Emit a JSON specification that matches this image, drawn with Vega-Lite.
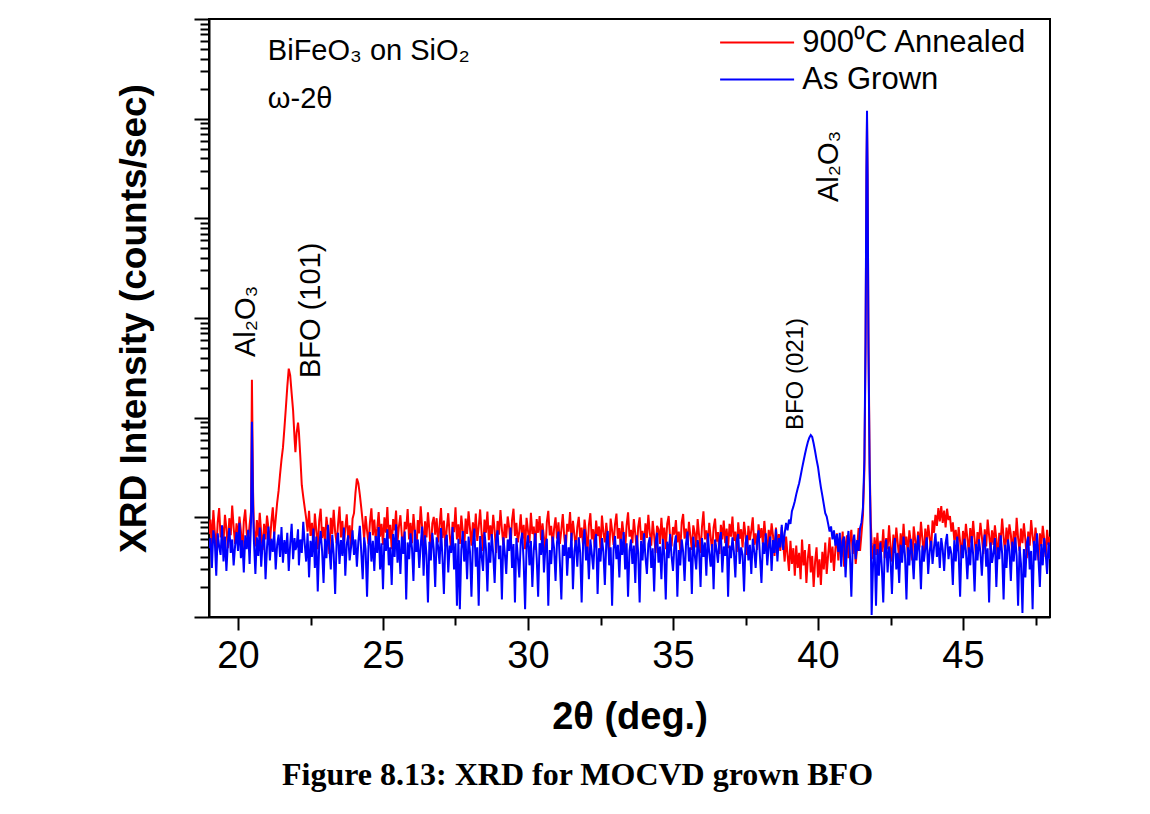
{
  "$schema": "https://vega.github.io/schema/vega-lite/v6.json",
  "width": 841,
  "height": 598,
  "autosize": {"type": "none"},
  "padding": {"left": 209, "top": 19, "right": 100, "bottom": 197},
  "background": "white",
  "title": {
    "text": "Figure 8.13: XRD for MOCVD grown BFO",
    "orient": "bottom",
    "anchor": "middle",
    "font": "Liberation Serif",
    "fontSize": 32,
    "fontWeight": "bold",
    "color": "black",
    "dx": -52,
    "offset": 24
  },
  "datasets": {
    "scan": [
      {"t":19.00,"a":6.8,"g":4.9},{"t":19.05,"a":9.5,"g":6.2},{"t":19.10,"a":5.2,"g":3.1},{"t":19.15,"a":11.8,"g":7.4},{"t":19.20,"a":7.1,"g":5.8},
      {"t":19.25,"a":4.6,"g":2.6},{"t":19.30,"a":8.9,"g":6.9},{"t":19.35,"a":12.4,"g":5.1},{"t":19.40,"a":6.3,"g":4.2},{"t":19.45,"a":8.2,"g":8.3},
      {"t":19.50,"a":5.7,"g":3.6},{"t":19.55,"a":10.6,"g":6.4},{"t":19.60,"a":7.7,"g":2.9},{"t":19.65,"a":4.9,"g":5.5},{"t":19.70,"a":9.8,"g":7.8},
      {"t":19.75,"a":6.6,"g":4.4},{"t":19.80,"a":13.1,"g":6.0},{"t":19.85,"a":7.9,"g":3.3},{"t":19.90,"a":5.4,"g":5.2},{"t":19.95,"a":8.7,"g":7.1},
      {"t":20.00,"a":6.1,"g":4.6},{"t":20.05,"a":10.2,"g":8.8},{"t":20.10,"a":7.3,"g":3.9},{"t":20.15,"a":4.4,"g":5.9},{"t":20.20,"a":9.1,"g":2.8},
      {"t":20.25,"a":12.0,"g":6.6},{"t":20.30,"a":6.9,"g":4.8},{"t":20.35,"a":5.8,"g":7.5},{"t":20.40,"a":8.4,"g":3.4},{"t":20.45,"a":11.5,"g":9.2},
      {"t":20.48,"a":240,"g":91},{"t":20.52,"a":18,"g":12},{"t":20.55,"a":7.6,"g":5.7},{"t":20.60,"a":5.1,"g":2.7},{"t":20.65,"a":9.4,"g":6.3},
      {"t":20.70,"a":6.4,"g":4.1},{"t":20.75,"a":11.1,"g":7.9},{"t":20.80,"a":7.0,"g":3.2},{"t":20.85,"a":4.7,"g":5.6},{"t":20.90,"a":8.6,"g":6.8},
      {"t":20.95,"a":6.0,"g":2.4},{"t":21.00,"a":10.4,"g":5.0},{"t":21.05,"a":7.8,"g":8.1},{"t":21.10,"a":5.3,"g":3.7},{"t":21.15,"a":9.0,"g":6.1},
      {"t":21.20,"a":12.6,"g":4.5},{"t":21.25,"a":6.7,"g":7.2},{"t":21.30,"a":9.6,"g":3.0},{"t":21.35,"a":14.0,"g":5.3},{"t":21.40,"a":18.5,"g":6.7},
      {"t":21.45,"a":27,"g":4.0},{"t":21.50,"a":38,"g":8.0},{"t":21.55,"a":50,"g":3.5},{"t":21.60,"a":78,"g":5.9},{"t":21.65,"a":125,"g":4.3},
      {"t":21.70,"a":205,"g":7.0},{"t":21.75,"a":310,"g":2.9},{"t":21.80,"a":265,"g":5.4},{"t":21.85,"a":175,"g":8.6},{"t":21.90,"a":118,"g":3.8},
      {"t":21.95,"a":62,"g":6.2},{"t":21.98,"a":45,"g":4.7},{"t":22.02,"a":70,"g":5.1},{"t":22.07,"a":89,"g":7.6},{"t":22.10,"a":72,"g":3.3},
      {"t":22.15,"a":40,"g":6.0},{"t":22.20,"a":21,"g":4.4},{"t":22.25,"a":16,"g":9.0},{"t":22.30,"a":12.5,"g":5.5},{"t":22.35,"a":9.8,"g":3.6},
      {"t":22.40,"a":7.2,"g":6.9},{"t":22.45,"a":11.6,"g":2.5},{"t":22.50,"a":6.5,"g":5.8},{"t":22.55,"a":8.8,"g":4.0},{"t":22.60,"a":5.0,"g":7.7},
      {"t":22.65,"a":10.9,"g":3.1},{"t":22.70,"a":7.4,"g":6.4},{"t":22.75,"a":4.8,"g":1.8},{"t":22.80,"a":9.3,"g":5.2},{"t":22.85,"a":12.2,"g":7.3},
      {"t":22.90,"a":6.2,"g":4.6},{"t":22.95,"a":8.0,"g":2.2},{"t":23.00,"a":5.6,"g":6.1},{"t":23.05,"a":10.1,"g":3.9},{"t":23.10,"a":7.5,"g":8.4},
      {"t":23.15,"a":4.3,"g":5.0},{"t":23.20,"a":9.9,"g":3.0},{"t":23.25,"a":6.8,"g":6.7},{"t":23.30,"a":11.9,"g":4.3},{"t":23.35,"a":7.1,"g":1.7},
      {"t":23.40,"a":5.5,"g":5.6},{"t":23.45,"a":8.5,"g":7.0},{"t":23.50,"a":12.8,"g":3.4},{"t":23.55,"a":6.3,"g":5.9},{"t":23.60,"a":9.2,"g":4.1},
      {"t":23.65,"a":5.2,"g":7.9},{"t":23.70,"a":7.8,"g":2.6},{"t":23.75,"a":10.7,"g":5.4},{"t":23.80,"a":6.0,"g":6.6},{"t":23.85,"a":8.3,"g":3.7},
      {"t":23.90,"a":4.9,"g":5.1},{"t":23.95,"a":9.7,"g":7.4},{"t":24.00,"a":11.0,"g":4.2},{"t":24.05,"a":17.5,"g":6.0},{"t":24.10,"a":24.5,"g":3.2},
      {"t":24.15,"a":22.0,"g":5.7},{"t":24.20,"a":17.0,"g":8.2},{"t":24.25,"a":12.5,"g":4.5},{"t":24.30,"a":9.0,"g":2.4},{"t":24.35,"a":6.1,"g":6.3},
      {"t":24.40,"a":10.3,"g":4.8},{"t":24.45,"a":7.3,"g":1.6},{"t":24.50,"a":5.4,"g":5.3},{"t":24.55,"a":8.9,"g":7.1},{"t":24.60,"a":12.3,"g":3.6},
      {"t":24.65,"a":6.6,"g":5.8},{"t":24.70,"a":9.5,"g":2.9},{"t":24.75,"a":5.9,"g":6.5},{"t":24.80,"a":7.7,"g":4.4},{"t":24.85,"a":11.3,"g":8.0},
      {"t":24.90,"a":6.4,"g":3.0},{"t":24.95,"a":8.6,"g":5.5},{"t":25.00,"a":5.3,"g":1.9},{"t":25.05,"a":10.0,"g":6.2},{"t":25.10,"a":7.0,"g":4.6},
      {"t":25.15,"a":12.7,"g":7.6},{"t":25.20,"a":6.1,"g":3.3},{"t":25.25,"a":8.4,"g":5.0},{"t":25.30,"a":4.8,"g":2.1},{"t":25.35,"a":9.6,"g":6.8},
      {"t":25.40,"a":7.4,"g":4.0},{"t":25.45,"a":11.7,"g":8.5},{"t":25.50,"a":5.7,"g":3.5},{"t":25.55,"a":8.1,"g":5.9},{"t":25.60,"a":10.5,"g":2.7},
      {"t":25.65,"a":6.5,"g":6.4},{"t":25.70,"a":4.6,"g":4.3},{"t":25.75,"a":9.0,"g":7.2},{"t":25.80,"a":7.6,"g":1.5},{"t":25.85,"a":12.1,"g":5.6},
      {"t":25.90,"a":6.0,"g":3.8},{"t":25.95,"a":8.8,"g":6.9},{"t":26.00,"a":5.5,"g":4.9},{"t":26.05,"a":10.8,"g":2.3},{"t":26.10,"a":7.2,"g":7.5},
      {"t":26.15,"a":4.5,"g":4.5},{"t":26.20,"a":9.4,"g":6.0},{"t":26.25,"a":6.9,"g":3.1},{"t":26.30,"a":12.9,"g":5.3},{"t":26.35,"a":7.9,"g":8.1},
      {"t":26.40,"a":5.0,"g":2.6},{"t":26.45,"a":9.1,"g":6.6},{"t":26.50,"a":6.3,"g":4.2},{"t":26.55,"a":11.2,"g":1.4},{"t":26.60,"a":7.5,"g":5.7},
      {"t":26.65,"a":4.2,"g":3.7},{"t":26.70,"a":8.7,"g":7.0},{"t":26.75,"a":10.1,"g":4.8},{"t":26.80,"a":6.7,"g":2.0},{"t":26.85,"a":9.8,"g":6.3},
      {"t":26.90,"a":5.6,"g":5.1},{"t":26.95,"a":8.2,"g":3.4},{"t":27.00,"a":12.4,"g":7.8},{"t":27.05,"a":6.2,"g":4.0},{"t":27.10,"a":9.3,"g":1.7},
      {"t":27.15,"a":5.1,"g":5.9},{"t":27.20,"a":7.8,"g":6.7},{"t":27.25,"a":11.0,"g":2.8},{"t":27.30,"a":6.6,"g":5.2},{"t":27.35,"a":4.7,"g":4.4},
      {"t":27.40,"a":9.0,"g":8.0},{"t":27.45,"a":7.1,"g":3.0},{"t":27.50,"a":12.6,"g":5.5},{"t":27.55,"a":6.0,"g":1.3},{"t":27.60,"a":8.5,"g":6.1},
      {"t":27.65,"a":5.4,"g":1.2},{"t":27.70,"a":10.4,"g":4.7},{"t":27.75,"a":7.3,"g":7.3},{"t":27.80,"a":4.9,"g":3.6},{"t":27.85,"a":9.7,"g":5.8},
      {"t":27.90,"a":6.8,"g":2.4},{"t":27.95,"a":11.5,"g":6.4},{"t":28.00,"a":7.7,"g":4.5},{"t":28.05,"a":5.2,"g":1.6},{"t":28.10,"a":8.9,"g":5.4},
      {"t":28.15,"a":6.4,"g":7.7},{"t":28.20,"a":10.9,"g":3.2},{"t":28.25,"a":5.8,"g":5.0},{"t":28.30,"a":8.0,"g":1.3},{"t":28.35,"a":12.0,"g":6.5},
      {"t":28.40,"a":6.9,"g":4.1},{"t":28.45,"a":4.6,"g":2.9},{"t":28.50,"a":9.5,"g":7.1},{"t":28.55,"a":7.0,"g":4.9},{"t":28.60,"a":11.4,"g":1.8},
      {"t":28.65,"a":5.9,"g":5.6},{"t":28.70,"a":8.3,"g":3.5},{"t":28.75,"a":6.1,"g":6.8},{"t":28.80,"a":10.6,"g":4.3},{"t":28.85,"a":7.4,"g":2.2},
      {"t":28.90,"a":4.4,"g":5.9},{"t":28.95,"a":9.2,"g":7.4},{"t":29.00,"a":6.7,"g":3.8},{"t":29.05,"a":11.8,"g":5.2},{"t":29.10,"a":7.6,"g":1.5},
      {"t":29.15,"a":5.3,"g":6.3},{"t":29.20,"a":8.6,"g":4.4},{"t":29.25,"a":6.2,"g":2.7},{"t":29.30,"a":10.2,"g":6.0},{"t":29.35,"a":7.9,"g":4.6},
      {"t":29.40,"a":5.0,"g":7.9},{"t":29.45,"a":9.4,"g":3.1},{"t":29.50,"a":12.2,"g":5.4},{"t":29.55,"a":6.5,"g":1.4},{"t":29.60,"a":8.8,"g":6.2},
      {"t":29.65,"a":5.6,"g":4.0},{"t":29.70,"a":7.2,"g":2.5},{"t":29.75,"a":10.7,"g":5.7},{"t":29.80,"a":6.0,"g":7.0},{"t":29.85,"a":8.4,"g":3.6},
      {"t":29.90,"a":4.8,"g":1.2},{"t":29.95,"a":9.9,"g":5.1},{"t":30.00,"a":7.3,"g":6.6},{"t":30.05,"a":5.5,"g":3.3},{"t":30.10,"a":11.1,"g":5.8},
      {"t":30.15,"a":6.8,"g":2.0},{"t":30.20,"a":8.1,"g":4.8},{"t":30.25,"a":4.7,"g":6.9},{"t":30.30,"a":9.6,"g":3.9},{"t":30.35,"a":7.0,"g":1.6},
      {"t":30.40,"a":10.3,"g":5.5},{"t":30.45,"a":5.9,"g":4.2},{"t":30.50,"a":8.7,"g":7.5},{"t":30.55,"a":6.3,"g":2.8},{"t":30.60,"a":4.5,"g":5.0},
      {"t":30.65,"a":9.0,"g":6.1},{"t":30.70,"a":11.6,"g":1.3},{"t":30.75,"a":6.6,"g":4.7},{"t":30.80,"a":8.2,"g":3.4},{"t":30.85,"a":5.1,"g":6.4},
      {"t":30.90,"a":7.7,"g":4.9},{"t":30.95,"a":10.0,"g":2.3},{"t":31.00,"a":6.1,"g":5.6},{"t":31.05,"a":8.9,"g":7.2},{"t":31.10,"a":5.4,"g":3.5},
      {"t":31.15,"a":7.5,"g":1.5},{"t":31.20,"a":10.8,"g":5.3},{"t":31.25,"a":6.4,"g":4.1},{"t":31.30,"a":4.6,"g":6.7},{"t":31.35,"a":8.6,"g":2.6},
      {"t":31.40,"a":7.2,"g":5.0},{"t":31.45,"a":11.3,"g":3.9},{"t":31.50,"a":5.8,"g":7.0},{"t":31.55,"a":9.2,"g":1.9},{"t":31.60,"a":6.7,"g":4.6},
      {"t":31.65,"a":4.9,"g":5.9},{"t":31.70,"a":8.0,"g":3.2},{"t":31.75,"a":10.1,"g":6.3},{"t":31.80,"a":6.2,"g":4.4},{"t":31.85,"a":7.9,"g":1.4},
      {"t":31.90,"a":5.2,"g":5.4},{"t":31.95,"a":9.5,"g":7.6},{"t":32.00,"a":6.9,"g":3.7},{"t":32.05,"a":4.3,"g":5.1},{"t":32.10,"a":8.4,"g":2.4},
      {"t":32.15,"a":11.0,"g":6.0},{"t":32.20,"a":6.0,"g":4.3},{"t":32.25,"a":7.6,"g":3.0},{"t":32.30,"a":5.0,"g":5.7},{"t":32.35,"a":9.3,"g":6.8},
      {"t":32.40,"a":6.5,"g":1.7},{"t":32.45,"a":8.1,"g":4.9},{"t":32.50,"a":4.8,"g":3.6},{"t":32.55,"a":10.4,"g":6.2},{"t":32.60,"a":7.1,"g":4.5},
      {"t":32.65,"a":5.6,"g":2.1},{"t":32.70,"a":8.8,"g":5.6},{"t":32.75,"a":6.3,"g":7.3},{"t":32.80,"a":4.4,"g":3.3},{"t":32.85,"a":9.7,"g":5.0},
      {"t":32.90,"a":7.4,"g":1.3},{"t":32.95,"a":5.3,"g":4.8},{"t":33.00,"a":8.5,"g":6.5},{"t":33.05,"a":10.9,"g":3.8},{"t":33.10,"a":6.1,"g":5.3},
      {"t":33.15,"a":7.8,"g":2.5},{"t":33.20,"a":5.0,"g":6.1},{"t":33.25,"a":9.1,"g":4.2},{"t":33.30,"a":6.6,"g":7.1},{"t":33.35,"a":4.7,"g":3.0},
      {"t":33.40,"a":8.3,"g":5.5},{"t":33.45,"a":11.2,"g":1.6},{"t":33.50,"a":6.4,"g":4.6},{"t":33.55,"a":7.5,"g":6.0},{"t":33.60,"a":5.5,"g":3.4},
      {"t":33.65,"a":9.6,"g":5.2},{"t":33.70,"a":6.8,"g":2.2},{"t":33.75,"a":4.5,"g":6.6},{"t":33.80,"a":8.0,"g":4.4},{"t":33.85,"a":10.0,"g":1.4},
      {"t":33.90,"a":5.9,"g":5.8},{"t":33.95,"a":7.3,"g":3.7},{"t":34.00,"a":4.9,"g":6.9},{"t":34.05,"a":8.7,"g":4.0},{"t":34.10,"a":6.2,"g":2.7},
      {"t":34.15,"a":10.6,"g":5.4},{"t":34.20,"a":7.0,"g":6.3},{"t":34.25,"a":5.2,"g":3.1},{"t":34.30,"a":9.2,"g":4.9},{"t":34.35,"a":6.5,"g":1.8},
      {"t":34.40,"a":4.4,"g":5.6},{"t":34.45,"a":8.2,"g":7.0},{"t":34.50,"a":7.6,"g":3.5},{"t":34.55,"a":5.4,"g":5.1},{"t":34.60,"a":9.9,"g":2.4},
      {"t":34.65,"a":6.0,"g":6.1},{"t":34.70,"a":7.9,"g":4.3},{"t":34.75,"a":4.8,"g":1.5},{"t":34.80,"a":8.6,"g":5.7},{"t":34.85,"a":10.3,"g":3.9},
      {"t":34.90,"a":6.3,"g":6.8},{"t":34.95,"a":5.1,"g":4.1},{"t":35.00,"a":8.0,"g":2.9},{"t":35.05,"a":6.7,"g":5.3},{"t":35.10,"a":9.4,"g":6.6},
      {"t":35.15,"a":5.6,"g":1.6},{"t":35.20,"a":7.2,"g":4.7},{"t":35.25,"a":4.6,"g":3.3},{"t":35.30,"a":8.9,"g":6.0},{"t":35.35,"a":10.8,"g":4.5},
      {"t":35.40,"a":6.1,"g":2.3},{"t":35.45,"a":7.7,"g":5.5},{"t":35.50,"a":5.3,"g":7.2},{"t":35.55,"a":9.0,"g":3.6},{"t":35.60,"a":6.4,"g":5.0},
      {"t":35.65,"a":4.7,"g":1.7},{"t":35.70,"a":8.3,"g":6.4},{"t":35.75,"a":7.0,"g":4.2},{"t":35.80,"a":5.0,"g":3.0},{"t":35.85,"a":9.6,"g":5.9},
      {"t":35.90,"a":6.6,"g":4.6},{"t":35.95,"a":4.4,"g":2.0},{"t":36.00,"a":8.1,"g":6.2},{"t":36.05,"a":11.5,"g":4.0},{"t":36.10,"a":6.0,"g":5.6},
      {"t":36.15,"a":7.4,"g":2.6},{"t":36.20,"a":5.2,"g":6.9},{"t":36.25,"a":8.8,"g":4.4},{"t":36.30,"a":6.3,"g":3.2},{"t":36.35,"a":4.6,"g":5.4},
      {"t":36.40,"a":7.9,"g":1.9},{"t":36.45,"a":9.7,"g":6.0},{"t":36.50,"a":5.7,"g":4.8},{"t":36.55,"a":7.1,"g":3.5},{"t":36.60,"a":4.3,"g":5.8},
      {"t":36.65,"a":8.4,"g":7.1},{"t":36.70,"a":6.0,"g":2.8},{"t":36.75,"a":9.3,"g":5.1},{"t":36.80,"a":5.5,"g":4.1},{"t":36.85,"a":7.7,"g":6.5},
      {"t":36.90,"a":4.9,"g":1.6},{"t":36.95,"a":8.6,"g":5.2},{"t":37.00,"a":6.4,"g":3.9},{"t":37.05,"a":10.2,"g":6.3},{"t":37.10,"a":5.8,"g":4.5},
      {"t":37.15,"a":7.2,"g":2.5},{"t":37.20,"a":4.5,"g":5.9},{"t":37.25,"a":8.9,"g":6.8},{"t":37.30,"a":6.1,"g":3.4},{"t":37.35,"a":7.6,"g":5.0},
      {"t":37.40,"a":5.0,"g":4.2},{"t":37.45,"a":9.0,"g":1.8},{"t":37.50,"a":6.7,"g":5.5},{"t":37.55,"a":4.2,"g":6.6},{"t":37.60,"a":8.2,"g":3.7},
      {"t":37.65,"a":5.9,"g":5.3},{"t":37.70,"a":7.4,"g":2.7},{"t":37.75,"a":10.0,"g":6.1},{"t":37.80,"a":5.3,"g":4.6},{"t":37.85,"a":6.9,"g":3.1},
      {"t":37.90,"a":4.7,"g":5.7},{"t":37.95,"a":8.5,"g":7.4},{"t":38.00,"a":6.2,"g":4.0},{"t":38.05,"a":7.8,"g":2.2},{"t":38.10,"a":5.4,"g":5.6},
      {"t":38.15,"a":9.2,"g":4.3},{"t":38.20,"a":6.0,"g":6.9},{"t":38.25,"a":4.4,"g":3.3},{"t":38.30,"a":7.5,"g":5.1},{"t":38.35,"a":5.6,"g":6.4},
      {"t":38.40,"a":8.7,"g":2.9},{"t":38.45,"a":6.5,"g":5.9},{"t":38.50,"a":4.1,"g":4.4},{"t":38.55,"a":7.9,"g":7.6},{"t":38.60,"a":5.2,"g":3.6},
      {"t":38.65,"a":6.8,"g":6.2},{"t":38.70,"a":4.6,"g":5.0},{"t":38.75,"a":8.0,"g":8.4},{"t":38.80,"a":5.5,"g":4.7},{"t":38.85,"a":3.6,"g":6.9},
      {"t":38.90,"a":6.4,"g":8.8},{"t":38.95,"a":4.2,"g":7.4},{"t":39.00,"a":2.9,"g":9.5},{"t":39.05,"a":5.8,"g":8.6},{"t":39.10,"a":3.4,"g":11.5},
      {"t":39.15,"a":4.9,"g":12.8},{"t":39.20,"a":2.6,"g":14.5},{"t":39.25,"a":5.2,"g":17.0},{"t":39.30,"a":3.1,"g":19.5},{"t":39.35,"a":4.4,"g":22.0},
      {"t":39.40,"a":2.4,"g":26.0},{"t":39.45,"a":6.0,"g":31.0},{"t":39.50,"a":3.3,"g":36.5},{"t":39.55,"a":4.7,"g":43.0},{"t":39.60,"a":2.2,"g":50.0},
      {"t":39.65,"a":3.9,"g":57.0},{"t":39.70,"a":5.4,"g":63.0},{"t":39.75,"a":2.8,"g":67.0},{"t":39.80,"a":4.1,"g":64.0},{"t":39.85,"a":2.0,"g":55.0},
      {"t":39.90,"a":3.6,"g":46.0},{"t":39.95,"a":5.0,"g":38.0},{"t":40.00,"a":2.5,"g":32.0},{"t":40.05,"a":3.8,"g":25.0},{"t":40.10,"a":2.1,"g":20.0},
      {"t":40.15,"a":4.5,"g":16.5},{"t":40.20,"a":3.0,"g":13.5},{"t":40.25,"a":5.6,"g":11.0},{"t":40.30,"a":2.7,"g":10.2},{"t":40.35,"a":4.2,"g":8.6},
      {"t":40.40,"a":6.3,"g":7.2},{"t":40.45,"a":3.5,"g":8.1},{"t":40.50,"a":5.1,"g":6.0},{"t":40.55,"a":2.9,"g":7.4},{"t":40.60,"a":4.8,"g":5.2},
      {"t":40.65,"a":6.9,"g":6.8},{"t":40.70,"a":3.7,"g":4.5},{"t":40.75,"a":5.9,"g":7.0},{"t":40.80,"a":4.0,"g":3.2},{"t":40.85,"a":7.2,"g":5.8},
      {"t":40.90,"a":3.2,"g":6.4},{"t":40.95,"a":5.3,"g":2.5},{"t":41.00,"a":6.6,"g":5.1},{"t":41.05,"a":3.9,"g":7.3},{"t":41.10,"a":5.7,"g":4.3},
      {"t":41.15,"a":7.5,"g":1.6},{"t":41.20,"a":4.3,"g":5.5},{"t":41.25,"a":6.1,"g":6.7},{"t":41.30,"a":3.4,"g":3.8},{"t":41.35,"a":5.0,"g":5.9},
      {"t":41.40,"a":7.8,"g":4.6},{"t":41.45,"a":4.6,"g":7.8},{"t":41.50,"a":6.9,"g":8.9},{"t":41.55,"a":10.5,"g":12.5},{"t":41.60,"a":30,"g":38},
      {"t":41.64,"a":500,"g":650},{"t":41.67,"a":25000,"g":32000},{"t":41.69,"a":100000,"g":120000},{"t":41.71,"a":26000,"g":28000},{"t":41.74,"a":700,"g":500},
      {"t":41.78,"a":35,"g":30},{"t":41.82,"a":9.0,"g":6.0},{"t":41.85,"a":5.5,"g":1.05},{"t":41.90,"a":3.8,"g":3.5},{"t":41.95,"a":6.3,"g":5.4},
      {"t":42.00,"a":4.2,"g":1.3},{"t":42.05,"a":7.0,"g":4.8},{"t":42.10,"a":3.5,"g":2.6},{"t":42.15,"a":5.8,"g":5.6},{"t":42.20,"a":4.5,"g":3.2},
      {"t":42.25,"a":7.6,"g":1.4},{"t":42.30,"a":3.9,"g":4.5},{"t":42.35,"a":6.2,"g":6.0},{"t":42.40,"a":4.8,"g":2.8},{"t":42.45,"a":8.3,"g":5.1},
      {"t":42.50,"a":5.1,"g":3.9},{"t":42.55,"a":3.6,"g":1.7},{"t":42.60,"a":6.7,"g":4.7},{"t":42.65,"a":4.4,"g":6.2},{"t":42.70,"a":7.9,"g":3.0},
      {"t":42.75,"a":5.5,"g":4.4},{"t":42.80,"a":3.8,"g":2.2},{"t":42.85,"a":6.9,"g":5.3},{"t":42.90,"a":4.7,"g":3.5},{"t":42.95,"a":8.6,"g":6.4},
      {"t":43.00,"a":5.3,"g":4.1},{"t":43.05,"a":6.4,"g":1.5},{"t":43.10,"a":4.1,"g":5.0},{"t":43.15,"a":7.4,"g":3.3},{"t":43.20,"a":5.6,"g":6.1},
      {"t":43.25,"a":3.7,"g":4.2},{"t":43.30,"a":8.1,"g":2.4},{"t":43.35,"a":6.0,"g":5.5},{"t":43.40,"a":4.3,"g":3.7},{"t":43.45,"a":7.2,"g":6.6},
      {"t":43.50,"a":5.0,"g":4.5},{"t":43.55,"a":9.0,"g":1.9},{"t":43.60,"a":6.1,"g":5.2},{"t":43.65,"a":4.0,"g":3.6},{"t":43.70,"a":7.7,"g":4.9},
      {"t":43.75,"a":5.4,"g":6.3},{"t":43.80,"a":8.4,"g":2.7},{"t":43.85,"a":6.3,"g":4.6},{"t":43.90,"a":4.6,"g":5.8},{"t":43.95,"a":9.3,"g":3.4},
      {"t":44.00,"a":7.0,"g":5.0},{"t":44.05,"a":10.6,"g":6.9},{"t":44.10,"a":8.2,"g":4.0},{"t":44.15,"a":12.4,"g":5.7},{"t":44.20,"a":9.1,"g":3.1},
      {"t":44.25,"a":13.0,"g":6.2},{"t":44.30,"a":8.8,"g":4.8},{"t":44.35,"a":11.7,"g":2.9},{"t":44.40,"a":7.9,"g":5.5},{"t":44.45,"a":12.2,"g":6.8},
      {"t":44.50,"a":9.4,"g":3.8},{"t":44.55,"a":10.3,"g":5.1},{"t":44.60,"a":7.2,"g":4.3},{"t":44.65,"a":8.9,"g":2.1},{"t":44.70,"a":5.9,"g":5.9},
      {"t":44.75,"a":7.5,"g":3.6},{"t":44.80,"a":4.8,"g":6.4},{"t":44.85,"a":8.0,"g":4.4},{"t":44.90,"a":5.7,"g":1.6},{"t":44.95,"a":3.9,"g":5.3},
      {"t":45.00,"a":7.3,"g":3.9},{"t":45.05,"a":5.2,"g":6.1},{"t":45.10,"a":8.6,"g":4.6},{"t":45.15,"a":6.2,"g":2.4},{"t":45.20,"a":4.4,"g":5.0},
      {"t":45.25,"a":7.8,"g":3.3},{"t":45.30,"a":5.5,"g":6.5},{"t":45.35,"a":9.2,"g":4.2},{"t":45.40,"a":6.0,"g":1.8},{"t":45.45,"a":4.1,"g":5.4},
      {"t":45.50,"a":7.1,"g":3.7},{"t":45.55,"a":5.6,"g":6.0},{"t":45.60,"a":8.8,"g":4.5},{"t":45.65,"a":6.4,"g":2.6},{"t":45.70,"a":4.3,"g":5.2},
      {"t":45.75,"a":7.6,"g":6.7},{"t":45.80,"a":5.1,"g":3.2},{"t":45.85,"a":9.5,"g":4.9},{"t":45.90,"a":6.6,"g":1.4},{"t":45.95,"a":4.7,"g":5.6},
      {"t":46.00,"a":7.4,"g":3.5},{"t":46.05,"a":5.3,"g":4.4},{"t":46.10,"a":8.3,"g":6.2},{"t":46.15,"a":6.1,"g":2.0},{"t":46.20,"a":3.8,"g":5.0},
      {"t":46.25,"a":7.0,"g":3.8},{"t":46.30,"a":5.8,"g":6.6},{"t":46.35,"a":9.7,"g":4.3},{"t":46.40,"a":6.3,"g":1.5},{"t":46.45,"a":4.5,"g":5.3},
      {"t":46.50,"a":7.9,"g":3.1},{"t":46.55,"a":5.4,"g":6.0},{"t":46.60,"a":8.5,"g":4.7},{"t":46.65,"a":6.7,"g":2.3},{"t":46.70,"a":4.2,"g":5.7},
      {"t":46.75,"a":7.3,"g":3.6},{"t":46.80,"a":5.0,"g":6.3},{"t":46.85,"a":9.9,"g":4.1},{"t":46.90,"a":6.2,"g":1.3},{"t":46.95,"a":4.6,"g":5.1},
      {"t":47.00,"a":7.7,"g":3.4},{"t":47.05,"a":5.5,"g":1.1},{"t":47.10,"a":8.7,"g":4.8},{"t":47.15,"a":6.0,"g":2.5},{"t":47.20,"a":3.9,"g":5.5},
      {"t":47.25,"a":7.2,"g":6.4},{"t":47.30,"a":5.2,"g":3.0},{"t":47.35,"a":9.4,"g":4.6},{"t":47.40,"a":6.5,"g":1.2},{"t":47.45,"a":4.8,"g":5.8},
      {"t":47.50,"a":7.9,"g":3.7},{"t":47.55,"a":5.6,"g":6.9},{"t":47.60,"a":3.7,"g":4.0},{"t":47.65,"a":6.9,"g":2.0},{"t":47.70,"a":5.1,"g":5.4},
      {"t":47.75,"a":8.2,"g":3.3},{"t":47.80,"a":6.0,"g":6.2},{"t":47.85,"a":4.0,"g":4.4},{"t":47.90,"a":7.5,"g":2.7},{"t":47.95,"a":5.3,"g":5.6},
      {"t":48.00,"a":6.4,"g":3.8}
    ],
    "sample": [
      {"t": 21.03, "v": 387000, "s": "BiFeO₃ on SiO₂"},
      {"t": 21.03, "v": 128000, "s": "ω-2θ"}
    ],
    "peaks": [
      {"t": 20.586, "v": 405, "s": "Al₂O₃"},
      {"t": 22.83, "v": 250, "s": "BFO (101)"},
      {"t": 40.69, "v": 14560, "s": "Al₂O₃"}
    ],
    "bfo021": [
      {"t": 39.48, "v": 75, "s": "BFO (021)"}
    ]
  },
  "encoding": {
    "x": {
      "field": "t",
      "type": "quantitative",
      "scale": {"domain": [19, 48], "nice": false, "zero": false},
      "axis": {
        "title": "2θ (deg.)",
        "values": [20, 22.5, 25, 27.5, 30, 32.5, 35, 37.5, 40, 42.5, 45, 47.5],
        "labelExpr": "datum.value % 5 === 0 ? datum.label : ''",
        "tickSize": {"condition": {"test": "datum.value % 5 === 0", "value": 13}, "value": 8},
        "labelFont": "Liberation Sans",
        "labelFontSize": 38,
        "labelPadding": 7,
        "labelFlush": false,
        "labelOverlap": false,
        "titleFont": "Liberation Sans",
        "titleFontSize": 38,
        "titleFontWeight": "bold",
        "titlePadding": 23
      }
    },
    "y": {
      "field": "v",
      "type": "quantitative",
      "scale": {"type": "log", "domain": [1, 1000000], "nice": false},
      "axis": {
        "title": "XRD Intensity (counts/sec)",
        "values": [1, 2, 3, 4, 5, 6, 7, 8, 9, 10, 20, 30, 40, 50, 60, 70, 80, 90, 100, 200, 300, 400, 500, 600, 700, 800, 900, 1000, 2000, 3000, 4000, 5000, 6000, 7000, 8000, 9000, 10000, 20000, 30000, 40000, 50000, 60000, 70000, 80000, 90000, 100000, 200000, 300000, 400000, 500000, 600000, 700000, 800000, 900000, 1000000],
        "labels": false,
        "tickSize": {"condition": {"test": "abs(log(datum.value) / LN10 - round(log(datum.value) / LN10)) < 0.01", "value": 15}, "value": 9},
        "titleFont": "Liberation Sans",
        "titleFontSize": 37,
        "titleFontWeight": "bold",
        "titlePadding": 40
      }
    }
  },
  "layer": [
    {
      "data": {"name": "scan"},
      "transform": [
        {"fold": ["a", "g"], "as": ["k", "v"]},
        {"filter": "datum.k === 'a'"}
      ],
      "mark": {"type": "line", "strokeWidth": 2, "clip": true},
      "encoding": {
        "color": {
          "field": "k",
          "type": "nominal",
          "scale": {"domain": ["a", "g"], "range": ["#ff0000", "#0000ff"]},
          "legend": {
            "orient": "none",
            "legendX": 532.6,
            "legendY": 8,
            "title": null,
            "padding": 0,
            "symbolType": "M-5,0H5",
            "symbolSize": 219,
            "symbolStrokeWidth": 2,
            "labelExpr": "datum.label === 'a' ? '900⁰C Annealed' : 'As Grown'",
            "labelFont": "Liberation Sans",
            "labelFontSize": 31,
            "labelLimit": 0,
            "labelColor": "black",
            "labelOffset": 29.6,
            "rowPadding": 5
          }
        }
      }
    },
    {
      "data": {"name": "scan"},
      "transform": [
        {"fold": ["a", "g"], "as": ["k", "v"]},
        {"filter": "datum.k === 'g'"}
      ],
      "mark": {"type": "line", "strokeWidth": 2, "clip": true},
      "encoding": {
        "color": {"field": "k", "type": "nominal"}
      }
    },
    {
      "data": {"name": "sample"},
      "mark": {"type": "text", "align": "left", "baseline": "alphabetic", "fontSize": 29},
      "encoding": {"text": {"field": "s"}}
    },
    {
      "data": {"name": "peaks"},
      "mark": {"type": "text", "align": "left", "baseline": "alphabetic", "angle": 270, "fontSize": 29},
      "encoding": {"text": {"field": "s"}}
    },
    {
      "data": {"name": "bfo021"},
      "mark": {"type": "text", "align": "left", "baseline": "alphabetic", "angle": 270, "fontSize": 24},
      "encoding": {"text": {"field": "s"}}
    }
  ],
  "config": {
    "view": {"stroke": "black", "strokeWidth": 2},
    "axis": {
      "grid": false,
      "domainColor": "black",
      "domainWidth": 2,
      "tickColor": "black",
      "tickWidth": 2,
      "labelColor": "black",
      "titleColor": "black"
    },
    "text": {"font": "Liberation Sans", "color": "black"}
  }
}
